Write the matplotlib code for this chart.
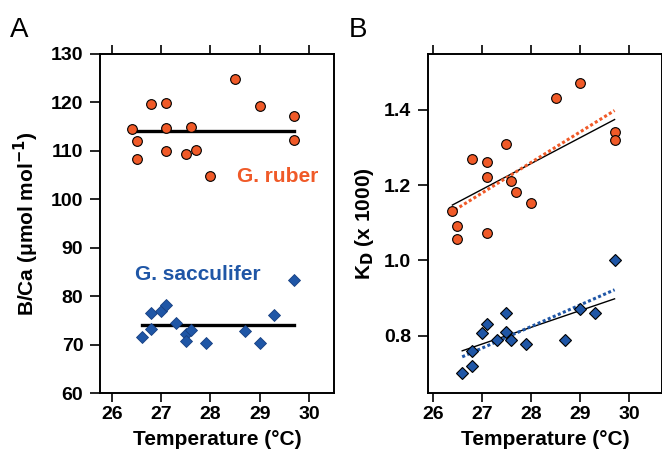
import matplotlib
matplotlib.use('Agg')
import matplotlib.pyplot as plt

plt.rcParams['font.family'] = ['Liberation Sans', 'DejaVu Sans']

# G. ruber (circles)
rub_T = [26.4, 26.5, 26.5, 26.8, 27.1, 27.1, 27.1, 27.5, 27.6, 27.7, 28.0, 28.5, 29.0, 29.7, 29.7]
rub_BCa = [114.6, 112.0, 108.3, 119.7, 119.9, 114.7, 109.9, 109.4, 114.9, 110.1, 104.8, 124.9, 119.3, 117.2, 112.3]
rub_KD_T = [26.4, 26.5, 26.5, 26.8, 27.1, 27.1, 27.1, 27.5, 27.6, 27.7, 28.0, 28.5, 29.0, 29.7, 29.7]
rub_KD = [1.131, 1.092, 1.057, 1.270, 1.261, 1.222, 1.072, 1.310, 1.211, 1.182, 1.152, 1.431, 1.470, 1.340, 1.321]

# G. sacculifer (diamonds)
sac_T = [26.6, 26.8, 26.8, 27.0, 27.1, 27.3, 27.5, 27.5, 27.6, 27.9, 28.7, 29.0, 29.3, 29.7]
sac_BCa = [71.5, 73.3, 76.5, 77.0, 78.1, 74.4, 72.1, 70.8, 73.0, 70.3, 72.7, 70.3, 76.1, 83.3]
sac_KD_T = [26.6, 26.8, 26.8, 27.0, 27.1, 27.3, 27.5, 27.5, 27.6, 27.9, 28.7, 29.0, 29.3, 29.7]
sac_KD = [0.700, 0.720, 0.759, 0.808, 0.830, 0.790, 0.860, 0.811, 0.789, 0.779, 0.789, 0.870, 0.860, 1.000]

# fit lines (end points)
rub_mean_T, rub_mean = [26.4, 29.7], [114.0, 114.0]
sac_mean_T, sac_mean = [26.6, 29.7], [74.0, 74.0]
rub_fit_T, rub_fit = [26.4, 29.7], [1.147, 1.374]
rub_fit2_T, rub_fit2 = [26.45, 29.7], [1.134, 1.398]
sac_fit_T, sac_fit = [26.6, 29.7], [0.760, 0.898]
sac_fit2_T, sac_fit2 = [26.6, 29.7], [0.744, 0.922]

red = '#f05a28'
blue = '#1f56a6'

fig = plt.figure(figsize=(6.62, 4.57), dpi=100)
W, H = 662, 457
axA = fig.add_axes([100 / W, 1 - 393 / H, 234 / W, 339 / H])
axB = fig.add_axes([428 / W, 1 - 393 / H, 234 / W, 339 / H])

def style(ax):
    for s in ax.spines.values():
        s.set_linewidth(1.4)
    ax.tick_params(axis='x', which='both', direction='out', top=True, bottom=True,
                   length=6.5, width=1.2, labelsize=14, pad=3)
    ax.tick_params(axis='y', direction='out', length=7, width=1.2, labelsize=14, pad=5)
    for lab in ax.get_xticklabels() + ax.get_yticklabels():
        lab.set_fontweight('bold')
    ax.set_xticks([26, 27, 28, 29, 30])
    ax.set_xlabel('Temperature (°C)', fontsize=15, fontweight='bold', labelpad=5)

# Panel A
axA.plot(rub_mean_T, rub_mean, color='black', lw=2.4, zorder=2)
axA.plot(sac_mean_T, sac_mean, color='black', lw=2.4, zorder=2)
axA.plot(rub_T, rub_BCa, 'o', ms=7, mfc=red, mec='black', mew=0.8, zorder=3)
axA.plot(sac_T, sac_BCa, 'D', ms=6, mfc=blue, mec='#173f80', mew=0.6, zorder=3)
axA.set_xlim(25.756, 30.51)
axA.set_ylim(60, 130)
axA.set_yticks(range(60, 131, 10))
axA.text(28.53, 104.8, 'G. ruber', color=red, fontsize=15, fontweight='bold', va='center')
axA.text(26.46, 84.5, 'G. sacculifer', color=blue, fontsize=15, fontweight='bold', va='center')
axA.set_ylabel('B/Ca (\u03bcmol mol$^{\\mathbf{-1}}$)', fontsize=15, fontweight='bold', labelpad=7)
style(axA)

# Panel B
axB.plot(rub_fit_T, rub_fit, color='black', lw=1.0, zorder=2)
axB.plot(rub_fit2_T, rub_fit2, color=red, lw=2.2, ls=(0, (1, 0.8)), zorder=2)
axB.plot(sac_fit_T, sac_fit, color='black', lw=1.0, zorder=2)
axB.plot(sac_fit2_T, sac_fit2, color=blue, lw=2.2, ls=(0, (1, 0.8)), zorder=2)
axB.plot(rub_KD_T, rub_KD, 'o', ms=7, mfc=red, mec='black', mew=0.8, zorder=3)
axB.plot(sac_KD_T, sac_KD, 'D', ms=6.5, mfc=blue, mec='black', mew=0.8, zorder=3)
axB.set_xlim(25.904, 30.665)
axB.set_ylim(0.648, 1.548)
axB.set_yticks([0.8, 1.0, 1.2, 1.4])
axB.set_ylabel('K$_\\mathbf{D}$ (x 1000)', fontsize=15, fontweight='bold', labelpad=6)
style(axB)

fig.text(10 / W, 1 - 30 / H, 'A', fontsize=20, va='center')
fig.text(349 / W, 1 - 30 / H, 'B', fontsize=20, va='center')

fig.savefig('out.png', dpi=100)
